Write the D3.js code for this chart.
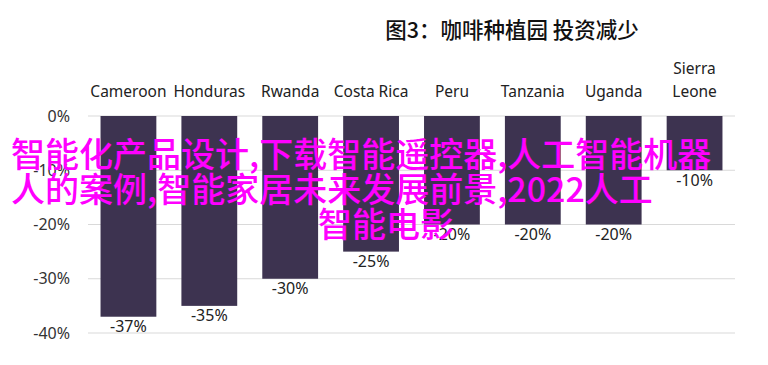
<!DOCTYPE html>
<html lang="zh">
  <head>
    <meta charset="UTF-8" />
    <script src="https://d3js.org/d3.v7.min.js"></script>
    <style>
      body { margin: 0; background: #fff; }
      svg text { font-family: "Noto Sans", "Open Sans", sans-serif; }
    </style>
  </head>
  <body>
    <div id="chart"></div>
    <script>
      // data
      var countries = ["Cameroon", "Honduras", "Rwanda", "Costa Rica", "Peru", "Tanzania", "Uganda", "Sierra Leone"];
      var changes = [-37, -35, -30, -25, -20, -20, -20, -10];
      var yTicks = [0, -10, -20, -30, -40];
      var title = "图3：咖啡种植园 投资减少";
      var overlayLines = ["智能化产品设计,下载智能遥控器,人工智能机器", "人的案例,智能家居未来发展前景,2022人工", "智能电影"];

      var W = 768, H = 365;
      var svg = d3.select("#chart").append("svg").attr("width", W).attr("height", H);

      var x = d3.scaleBand().domain(countries).range([88, 735]).paddingInner(0.31).paddingOuter(0.155);
      var y = d3.scaleLinear().domain([0, -40]).range([116, 333]);

      // gridlines
      svg.append("g").selectAll("line").data(yTicks).enter().append("line")
        .attr("x1", 88).attr("x2", 735)
        .attr("y1", d => y(d)).attr("y2", d => y(d))
        .attr("stroke", "#d9d9d9").attr("stroke-width", 1);

      // y axis labels
      svg.append("g").selectAll("text").data(yTicks).enter().append("text")
        .attr("x", 70).attr("y", d => y(d))
        .attr("dy", "0.35em").attr("text-anchor", "end")
        .attr("font-size", 16).attr("fill", "#333")
        .text(d => d + "%");

      // bars
      svg.append("g").selectAll("rect").data(countries).enter().append("rect")
        .attr("x", d => x(d)).attr("y", y(0))
        .attr("width", x.bandwidth())
        .attr("height", (d, i) => y(changes[i]) - y(0))
        .attr("fill", "#3d3350");

      // value labels under bars
      svg.append("g").selectAll("text").data(countries).enter().append("text")
        .attr("x", d => x(d) + x.bandwidth() / 2)
        .attr("y", (d, i) => y(changes[i]) + 10)
        .attr("dy", "0.35em").attr("text-anchor", "middle")
        .attr("font-size", 16).attr("fill", "#222")
        .text((d, i) => changes[i] + "%");

      // category labels on top
      var cat = svg.append("g").selectAll("text").data(countries).enter().append("text")
        .attr("x", d => x(d) + x.bandwidth() / 2)
        .attr("text-anchor", "middle")
        .attr("font-size", 15.5).attr("fill", "#222");
      cat.each(function (d) {
        var words = d === "Sierra Leone" ? ["Sierra", "Leone"] : [d];
        var t = d3.select(this);
        words.forEach(function (w, k) {
          t.append("tspan")
            .attr("x", x(d) + x.bandwidth() / 2)
            .attr("y", 92 - (words.length - 1 - k) * 23)
            .attr("dy", "0.35em")
            .text(w);
        });
      });

      // title
      svg.append("text")
        .attr("x", 512).attr("y", 30).attr("dy", "0.35em")
        .attr("text-anchor", "middle")
        .style("font-family", "'Noto Sans CJK SC', sans-serif")
        .attr("font-size", 21.5).attr("font-weight", 500).attr("fill", "#111")
        .text(title);

      // magenta overlay text
      svg.append("g").selectAll("text").data(overlayLines).enter().append("text")
        .attr("x", (d, i) => i === 2 ? 318 : 11)
        .attr("y", (d, i) => 155 + i * 35).attr("dy", "0.35em")
        .style("font-family", "'Noto Sans CJK SC', sans-serif")
        .attr("font-size", 34).attr("font-weight", 500).attr("fill", "#f0f")
        .text(d => d);
    </script>
  </body>
</html>
